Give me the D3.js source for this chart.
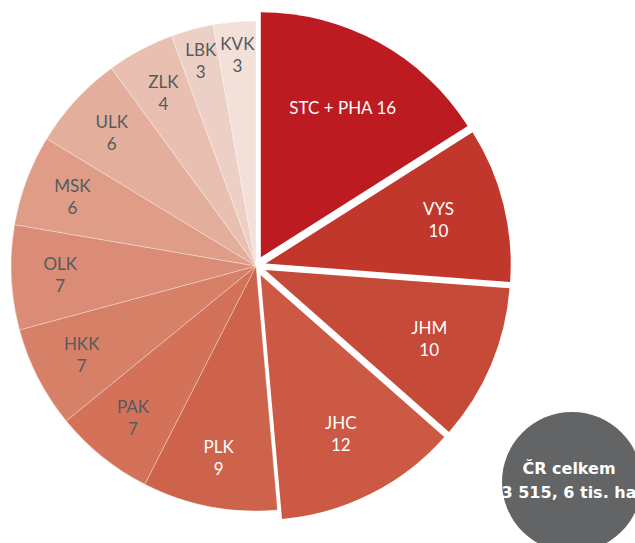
<!DOCTYPE html>
<html>
<head>
<meta charset="utf-8">
<script src="https://cdn.jsdelivr.net/npm/d3@7"></script>
<style>
  body { margin: 0; background: #fff; }
  svg { display: block; }
</style>
</head>
<body>
<div id="vis"></div>
<script>
// regions, share in % (labels show rounded values)
const regions = ["STC + PHA", "VYS", "JHM", "JHC", "PLK", "PAK", "HKK", "OLK", "MSK", "ULK", "ZLK", "LBK", "KVK"];
const shares = [16.0, 10.2, 10.3, 12.1, 8.9, 6.6, 6.7, 6.9, 6.0, 6.25, 4.45, 2.8, 2.8];
const colors = ["#bb1b21", "#c1372c", "#c64a38", "#cb5943", "#cd634b", "#d37259", "#d68068",
                "#da8c77", "#df9d88", "#e4ae9c", "#e8bfb0", "#edd0c5", "#f2e0d9"];
const exploded = ["STC + PHA", "VYS", "JHM", "JHC"];
const totalLines = ["ČR celkem", "3 515, 6 tis. ha"];

const width = 635, height = 543;
const cx = 256, cy = 266, radius = 245, offset = 10;

const data = regions.map((name, i) => ({ name, value: shares[i], color: colors[i] }));

const svg = d3.select("#vis").append("svg")
  .attr("width", width)
  .attr("height", height);

const pie = d3.pie().sort(null).value(d => d.value);
const arc = d3.arc().innerRadius(0).outerRadius(radius);
const arcs = pie(data);

const g = svg.append("g").attr("transform", `translate(${cx},${cy})`);

function shift(d) {
  if (!exploded.includes(d.data.name)) return [0, 0];
  const a = (d.startAngle + d.endAngle) / 2;
  return [offset * Math.sin(a), -offset * Math.cos(a)];
}

g.selectAll("path")
  .data(arcs)
  .join("path")
  .attr("transform", d => `translate(${shift(d)})`)
  .attr("d", arc)
  .attr("fill", d => d.data.color)
  .attr("stroke", d => exploded.includes(d.data.name) ? "none" : "rgba(255,255,255,0.45)")
  .attr("stroke-width", 0.7);

const fmt = d3.format(".0f");
// label distance from centre
const labelR = (d, i) => i === 0 ? 170 : i < 4 ? 178 : d.data.value < 4 ? 212 : 196;

const labels = g.selectAll("text.lbl")
  .data(arcs)
  .join("text")
  .attr("class", "lbl")
  .attr("transform", (d, i) => {
    const a = (d.startAngle + d.endAngle) / 2;
    const [sx, sy] = shift(d);
    return `translate(${sx + labelR(d, i) * Math.sin(a)},${sy - labelR(d, i) * Math.cos(a)})`;
  })
  .attr("text-anchor", "middle")
  .style("font", "17px Lato, sans-serif")
  .attr("fill", (d, i) => i < 5 ? "#ffffff" : "#565a5e");

labels.each(function(d, i) {
  const t = d3.select(this);
  if (i === 0) {
    t.append("tspan").attr("x", 0).attr("dy", "0.35em").text(`${d.data.name} ${fmt(d.data.value)}`);
  } else {
    t.append("tspan").attr("x", 0).attr("dy", "-0.3em").text(d.data.name);
    t.append("tspan").attr("x", 0).attr("dy", "22px").text(fmt(d.data.value));
  }
});

// total badge
const badge = svg.append("g").attr("transform", "translate(572,482)");
badge.append("circle").attr("r", 70).attr("fill", "#636466");
badge.append("text")
  .attr("text-anchor", "middle")
  .style("font", "bold 16px 'DejaVu Sans', sans-serif")
  .attr("fill", "#fff")
  .selectAll("tspan")
  .data(totalLines)
  .join("tspan")
  .attr("x", -3)
  .attr("y", (d, i) => -8 + i * 24)
  .text(d => d);
</script>
</body>
</html>
